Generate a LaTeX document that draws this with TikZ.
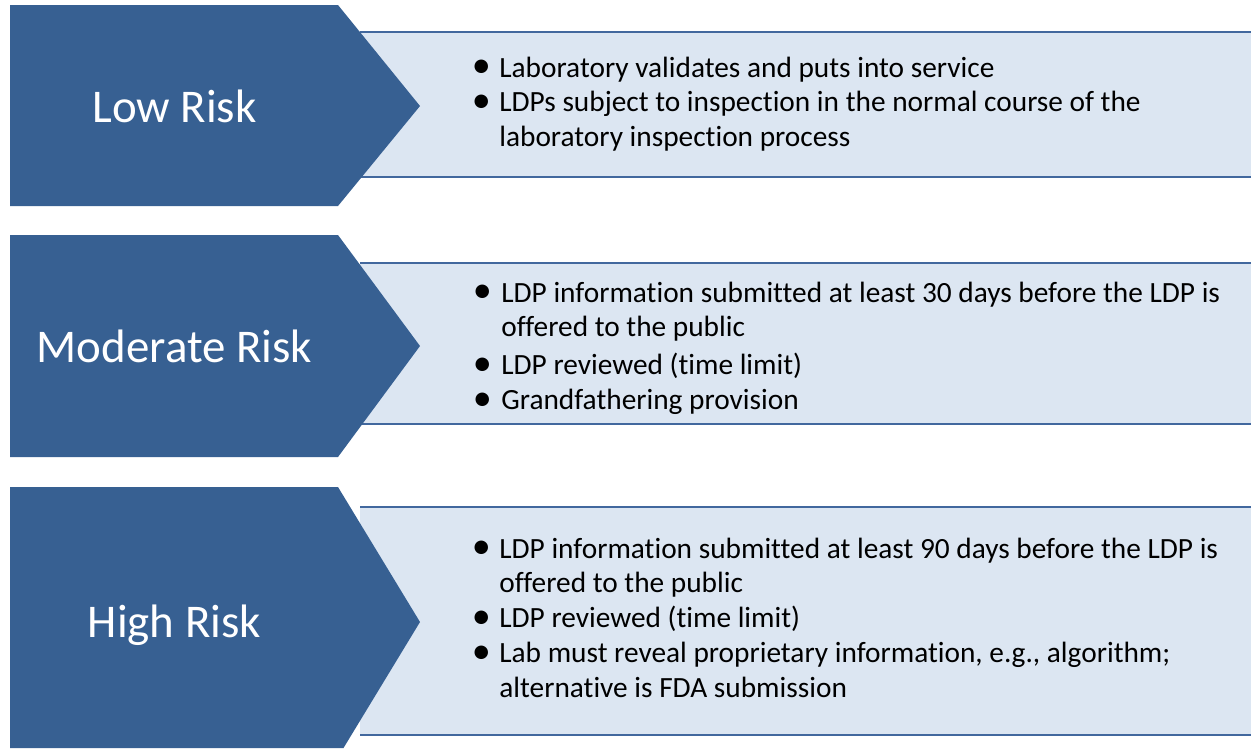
\documentclass[tikz,border=0pt]{standalone}
\usepackage{fontspec}
\setmainfont{Carlito}[Ligatures=NoCommon]
\usetikzlibrary{positioning}
\definecolor{riskblue}{HTML}{376092}
\definecolor{panelfill}{HTML}{DCE6F2}
\definecolor{panelline}{HTML}{42689E}
\newcommand{\bul}{\hspace{0.14cm}\makebox[0pt][c]{\raisebox{-0.3pt}{\scalebox{1.3}{\textbullet}}}}

\begin{document}
\begin{tikzpicture}
[x=0.02cm, y=-0.02cm,
chevron/.style={fill=riskblue, draw=none},
panel/.style={fill=panelfill, draw=none},
edge/.style={draw=panelline, line width=1.3pt},
title/.style={anchor=base, text=white, inner sep=0pt, font=\fontsize{26.7}{32}\selectfont},
items/.style={anchor=base west, inner sep=0pt, font=\fontsize{16.7}{19.9}\selectfont}]

\useasboundingbox (0,0) rectangle (1251,748);

% panels
\fill[panel] (360,32) rectangle (1251,177);
\draw[edge] (360,32) -- (1251,32);
\draw[edge] (360,177) -- (1251,177);

\fill[panel] (360,263) rectangle (1251,424);
\draw[edge] (360,263) -- (1251,263);
\draw[edge] (360,424) -- (1251,424);

\fill[panel] (360,507) rectangle (1251,735);
\draw[edge] (360,507) -- (1251,507);
\draw[edge] (360,735) -- (1251,735);

% chevrons
\fill[chevron] (10,5) -- (338,5) -- (420,106) -- (338,206) -- (10,206) -- cycle;
\fill[chevron] (10,235) -- (338,235) -- (420,346) -- (338,457) -- (10,457) -- cycle;
\fill[chevron] (10,487) -- (338,487) -- (420,622) -- (343.5,748) -- (10,748) -- cycle;

\node[title] (low) at (174.5,122) {Low Risk};
\node[title] (moderate) at (174.5,362) {Moderate Risk};
\node[title] (high) at (174.5,637) {High Risk};

\node[items] (low list) at (474,77) {\begin{tabular}[t]{@{}p{0.5cm}@{}l@{}}
\bul & Laboratory validates and puts into service\\
\bul & LDPs subject to inspection in the normal course of the\\
 & laboratory inspection process
\end{tabular}};

\node[items] (moderate list) at (475,302) {\begin{tabular}[t]{@{}p{0.52cm}@{}l@{}}
\bul & LDP information submitted at least 30 days before the LDP is\\
 & offered to the public\\[1.7pt]
\bul & LDP reviewed (time limit)\\
\bul & Grandfathering provision
\end{tabular}};

\node[items] (high list) at (474,558) {\begin{tabular}[t]{@{}p{0.5cm}@{}l@{}}
\bul & LDP information submitted at least 90 days before the LDP is\\
 & offered to the public\\
\bul & LDP reviewed (time limit)\\
\bul & Lab must reveal proprietary information, e.g., algorithm;\\
 & alternative is FDA submission
\end{tabular}};

\end{tikzpicture}
\end{document}
